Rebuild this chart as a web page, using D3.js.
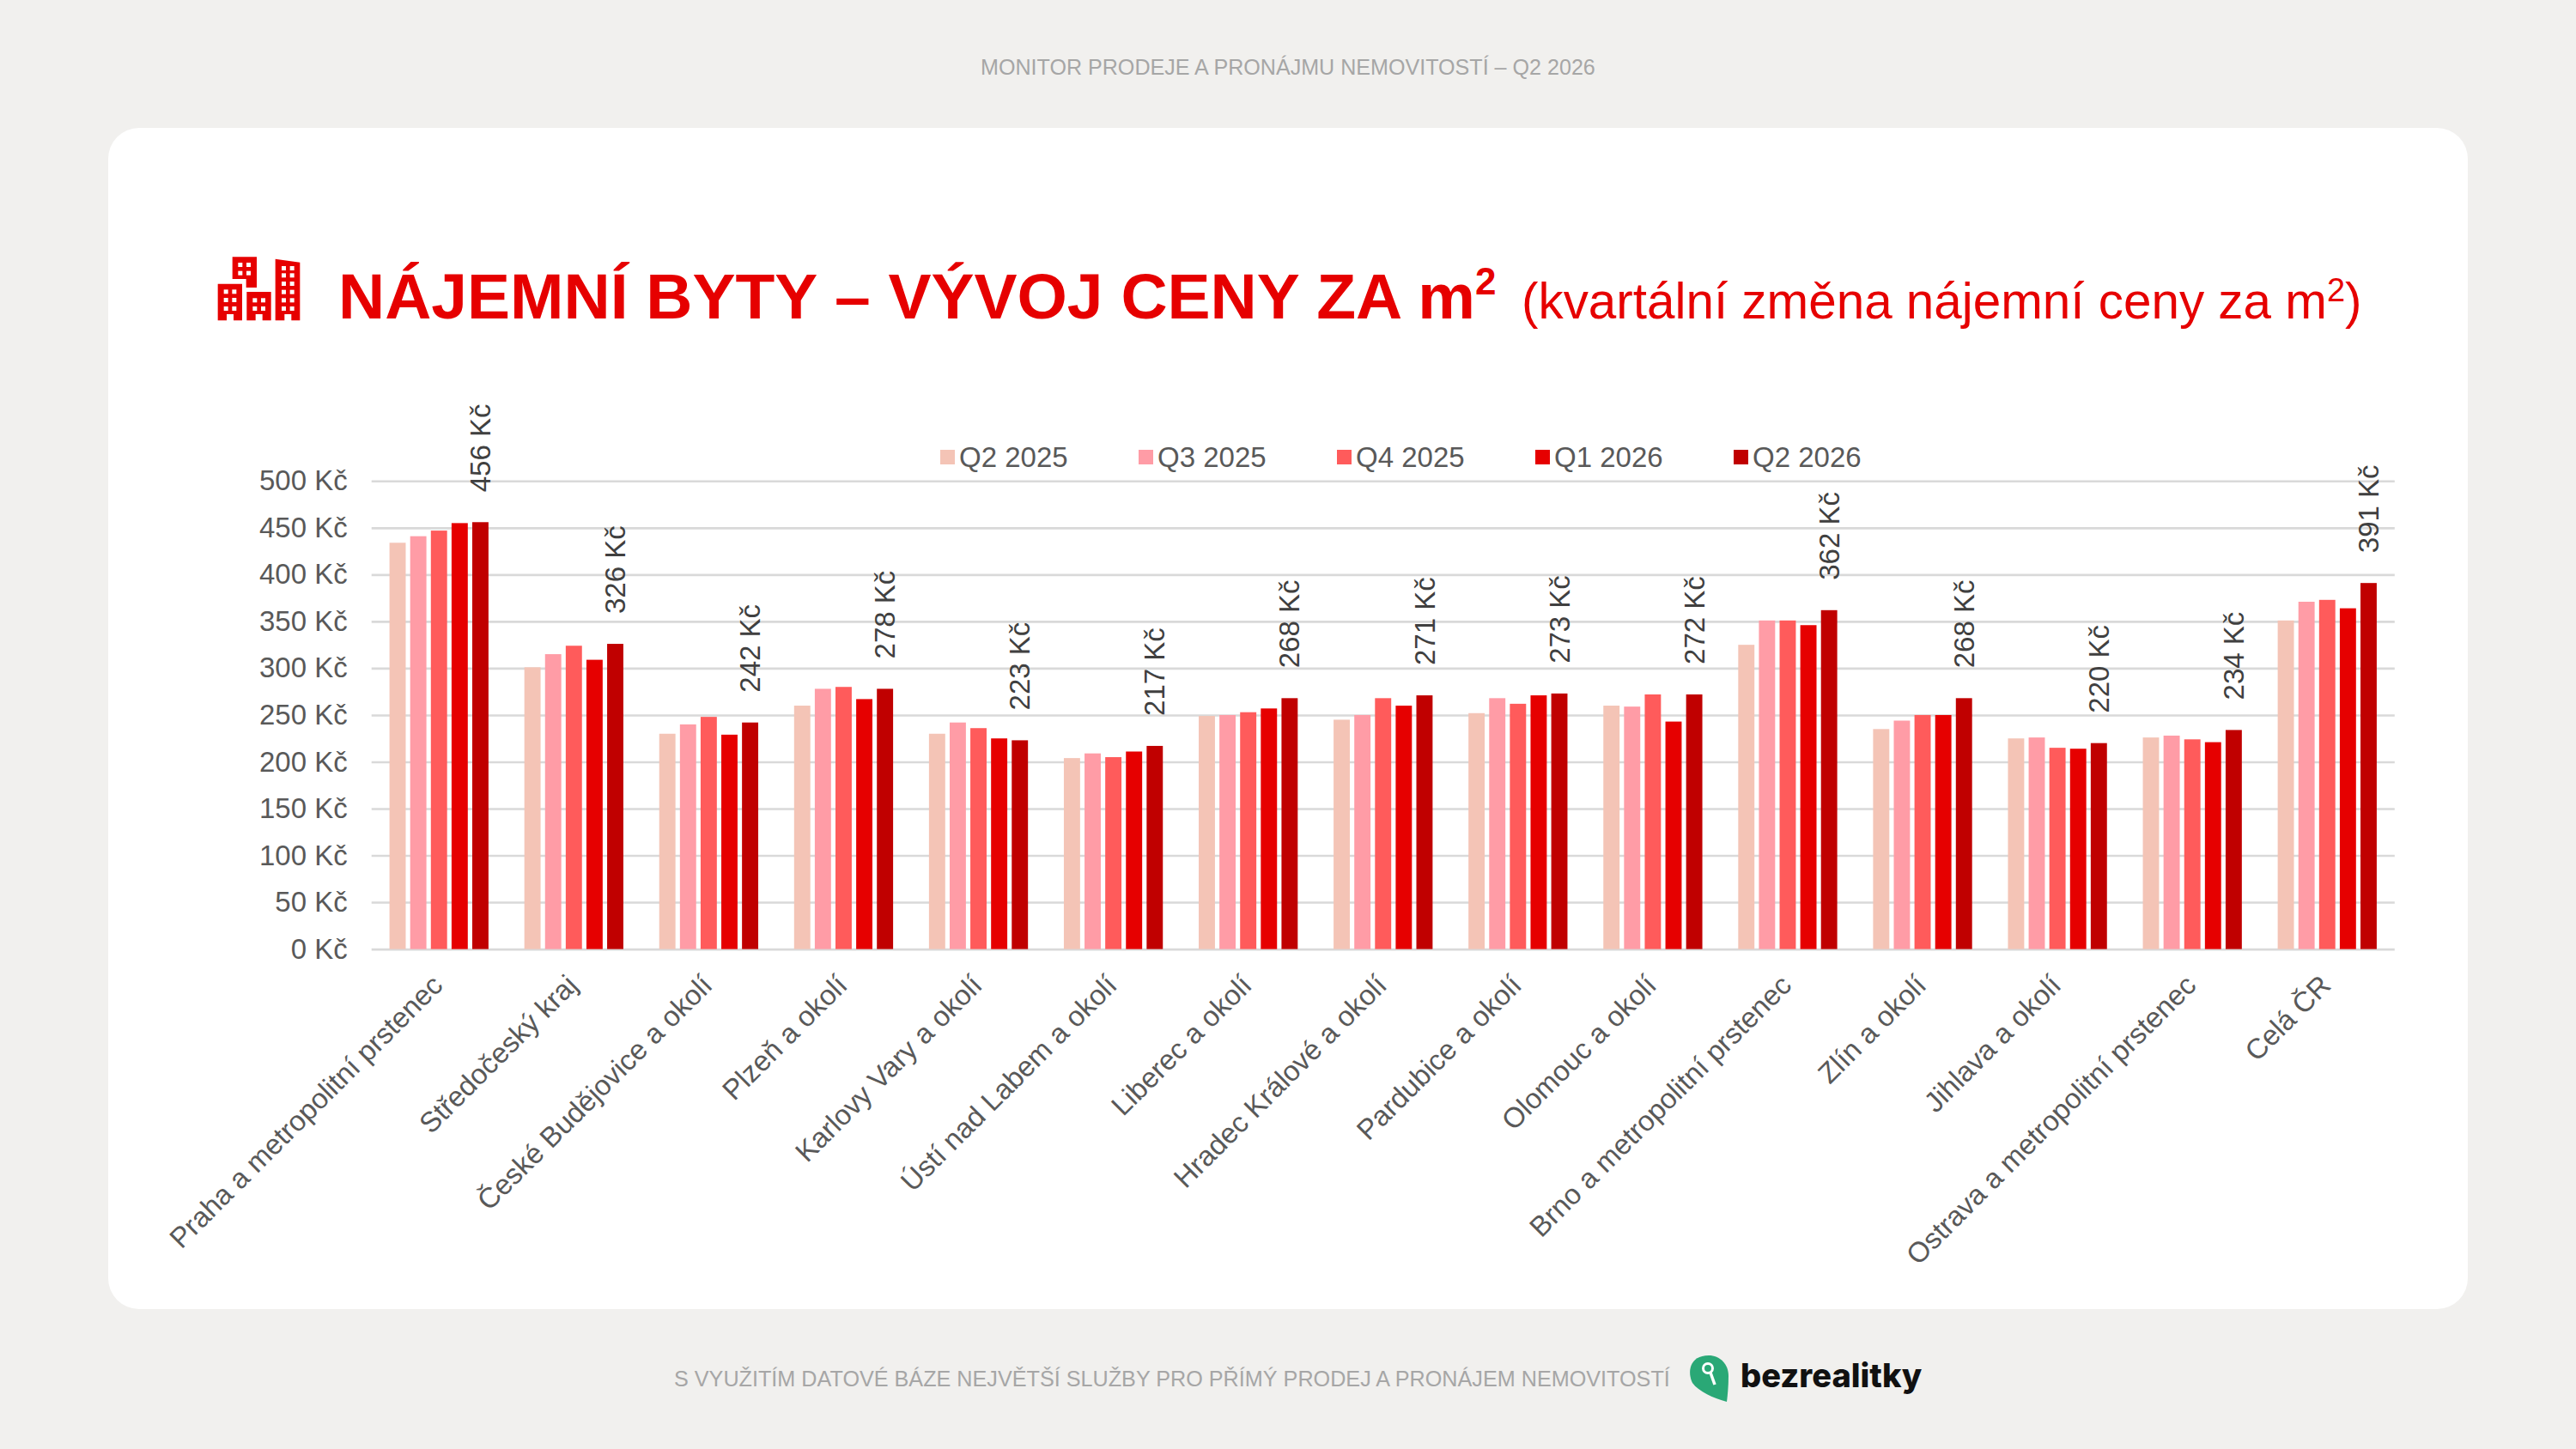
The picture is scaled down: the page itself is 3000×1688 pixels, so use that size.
<!DOCTYPE html>
<html>
<head>
<meta charset="utf-8">
<script src="https://cdn.jsdelivr.net/npm/d3@7"></script>
<style>
  body { margin: 0; background: #f1f0ee; }
  svg { display: block; font-family: "Liberation Sans", Arial, sans-serif; }
</style>
</head>
<body>
<svg></svg>
<script>
var width = 3000;
var height = 1688;

var categories = ["Praha a metropolitní prstenec", "Středočeský kraj", "České Budějovice a okolí", "Plzeň a okolí",
  "Karlovy Vary a okolí", "Ústí nad Labem a okolí", "Liberec a okolí", "Hradec Králové a okolí", "Pardubice a okolí",
  "Olomouc a okolí", "Brno a metropolitní prstenec", "Zlín a okolí", "Jihlava a okolí", "Ostrava a metropolitní prstenec", "Celá ČR"];
var seriesNames = ["Q2 2025", "Q3 2025", "Q4 2025", "Q1 2026", "Q2 2026"];
var seriesColors = ["#f4c4b6", "#ff9ca6", "#ff5b5b", "#e60000", "#c00000"];

var q22025 = [434, 301, 230, 260, 230, 204, 249, 245, 252, 260, 325, 235, 225, 226, 351];
var q32025 = [441, 315, 240, 278, 242, 209, 250, 250, 268, 259, 351, 244, 226, 228, 371];
var q42025 = [447, 324, 248, 280, 236, 205, 253, 268, 262, 272, 351, 250, 215, 224, 373];
var q12026 = [455, 309, 229, 267, 225, 211, 257, 260, 271, 243, 346, 250, 214, 221, 364];
var q22026 = [456, 326, 242, 278, 223, 217, 268, 271, 273, 272, 362, 268, 220, 234, 391];
var seriesValues = [q22025, q32025, q42025, q12026, q22026];

var yTicks = [0, 50, 100, 150, 200, 250, 300, 350, 400, 450, 500];

var plotLeft = 432.7, plotRight = 2788.8, plotTop = 560.3, plotBottom = 1105.6;
var fontSize = 33;
var textColor = "#595959";

var svg = d3.select("svg")
    .attr("width", width)
    .attr("height", height)
    .attr("viewBox", "0 0 " + width + " " + height);

svg.append("rect").attr("width", width).attr("height", height).attr("fill", "#f1f0ee");
svg.append("rect")
    .attr("x", 126).attr("y", 149)
    .attr("width", 2748).attr("height", 1376)
    .attr("rx", 36)
    .attr("fill", "#ffffff");

// header + footer
svg.append("text")
    .attr("x", 1142).attr("y", 87)
    .attr("font-size", 25.1).attr("fill", "#a6a6a6")
    .text("MONITOR PRODEJE A PRONÁJMU NEMOVITOSTÍ – Q2 2026");

svg.append("text")
    .attr("x", 785).attr("y", 1615)
    .attr("font-size", 25.2).attr("fill", "#a6a6a6")
    .text("S VYUŽITÍM DATOVÉ BÁZE NEJVĚTŠÍ SLUŽBY PRO PŘÍMÝ PRODEJ A PRONÁJEM NEMOVITOSTÍ");

// title
var title = svg.append("text")
    .attr("x", 394).attr("y", 371)
    .attr("font-size", 75).attr("font-weight", "bold").attr("fill", "#e60000");
title.append("tspan").text("NÁJEMNÍ BYTY – VÝVOJ CENY ZA m");
title.append("tspan").attr("dy", -28).attr("font-size", 44).text("2");

var subtitle = svg.append("text")
    .attr("x", 1772).attr("y", 371)
    .attr("font-size", 58.4).attr("fill", "#e60000");
subtitle.append("tspan").text("(kvartální změna nájemní ceny za m");
subtitle.append("tspan").attr("dy", -20).attr("font-size", 38).text("2");
subtitle.append("tspan").attr("dy", 20).text(")");

// building icon
var icon = svg.append("g").attr("transform", "translate(240,280) scale(0.3333)").attr("fill", "#e60000");
icon.append("path").attr("d", "M92,58H177V165H140V135H92Z");
icon.append("path").attr("d", "M41,152H126V280H96V258H72V280H41Z");
icon.append("path").attr("d", "M142,180H227V280H197V258H173V280H142Z");
icon.append("path").attr("d", "M242,65L328,77V280H298V258H274V280H242Z");
var windows = [[112, 78], [141, 78], [112, 107], [141, 107], [62, 172], [91, 172], [62, 201], [91, 201], [62, 231], [91, 231],
  [163, 202], [192, 202], [163, 231], [192, 231], [264, 90], [293, 90], [264, 115], [293, 115], [264, 144], [293, 144],
  [264, 173], [293, 173], [264, 202], [293, 202], [264, 231], [293, 231]];
icon.selectAll("rect").data(windows).enter().append("rect")
    .attr("x", d => d[0]).attr("y", d => d[1])
    .attr("width", 15).attr("height", 15)
    .attr("fill", "#ffffff");

// scales
var xScale = d3.scaleBand()
    .domain(categories)
    .range([plotLeft, plotRight]);

var seriesScale = d3.scaleBand()
    .domain(seriesNames)
    .range([0, xScale.bandwidth()])
    .paddingInner(0.216)
    .paddingOuter(0.867);

var yScale = d3.scaleLinear()
    .domain([0, 500])
    .range([plotBottom, plotTop]);

// grid + y axis
var yAxis = svg.append("g")
    .attr("transform", "translate(" + plotLeft + ",0)")
    .call(d3.axisLeft(yScale)
        .tickValues(yTicks)
        .tickSize(-(plotRight - plotLeft))
        .tickPadding(28)
        .tickFormat(d => d + " Kč"));
yAxis.select(".domain").remove();
yAxis.selectAll("line").attr("stroke", "#d9d9d9").attr("stroke-width", 2.6);
yAxis.selectAll("text").attr("font-size", fontSize).attr("font-family", "Liberation Sans").attr("fill", textColor);

// bars
seriesNames.forEach(function(name, s) {
  svg.append("g").selectAll("rect")
      .data(seriesValues[s])
      .enter()
      .append("rect")
        .attr("x", (d, i) => xScale(categories[i]) + seriesScale(name))
        .attr("y", d => yScale(d))
        .attr("width", seriesScale.bandwidth())
        .attr("height", d => plotBottom - yScale(d))
        .attr("fill", seriesColors[s]);
});

// value labels on last series
svg.append("g").selectAll("text")
    .data(q22026)
    .enter()
    .append("text")
      .attr("transform", (d, i) => "translate(" +
          (xScale(categories[i]) + seriesScale("Q2 2026") + seriesScale.bandwidth() / 2) + "," + (yScale(d) - 35) + ") rotate(-90)")
      .attr("dy", "0.35em")
      .attr("font-size", fontSize)
      .attr("fill", "#404040")
      .text(d => d + " Kč");

// category labels
var xAxis = svg.append("g")
    .attr("transform", "translate(0," + plotBottom + ")")
    .call(d3.axisBottom(xScale).tickSize(0));
xAxis.select(".domain").remove();
xAxis.selectAll("text")
    .attr("font-size", fontSize)
    .attr("font-family", "Liberation Sans")
    .attr("fill", textColor)
    .attr("text-anchor", "end")
    .attr("x", 0).attr("y", 0).attr("dy", "0.35em")
    .attr("transform", "translate(-2,36) rotate(-45)");

// legend
var legendScale = d3.scalePoint().domain(seriesNames).range([1095, 2019]);
var legend = svg.append("g").selectAll("g")
    .data(seriesNames)
    .enter()
    .append("g")
      .attr("transform", d => "translate(" + legendScale(d) + ",532)");
legend.append("rect")
    .attr("y", -8).attr("width", 17).attr("height", 17)
    .attr("fill", (d, i) => seriesColors[i]);
legend.append("text")
    .attr("x", 22).attr("dy", "0.35em")
    .attr("font-size", fontSize)
    .attr("fill", textColor)
    .text(d => d);

// logo
var logo = svg.append("g").attr("transform", "translate(1968,1579)");
logo.append("path")
    .attr("d", "M22,0C35,0 45,10 45,24C45,36 44,46 43,54C28,50 10,42 3,32C-3,20 -1,0 22,0Z")
    .attr("fill", "#2aa876");
logo.append("circle").attr("cx", 21).attr("cy", 15).attr("r", 5.5).attr("fill", "none").attr("stroke", "#ffffff").attr("stroke-width", 3);
logo.append("path").attr("d", "M24,20L29,34").attr("stroke", "#ffffff").attr("stroke-width", 3.5).attr("fill", "none");
svg.append("text")
    .attr("x", 2027).attr("y", 1616)
    .attr("font-family", "Inter").attr("font-weight", 800)
    .attr("font-size", 38).attr("fill", "#111111")
    .text("bezrealitky");
</script>
</body>
</html>
